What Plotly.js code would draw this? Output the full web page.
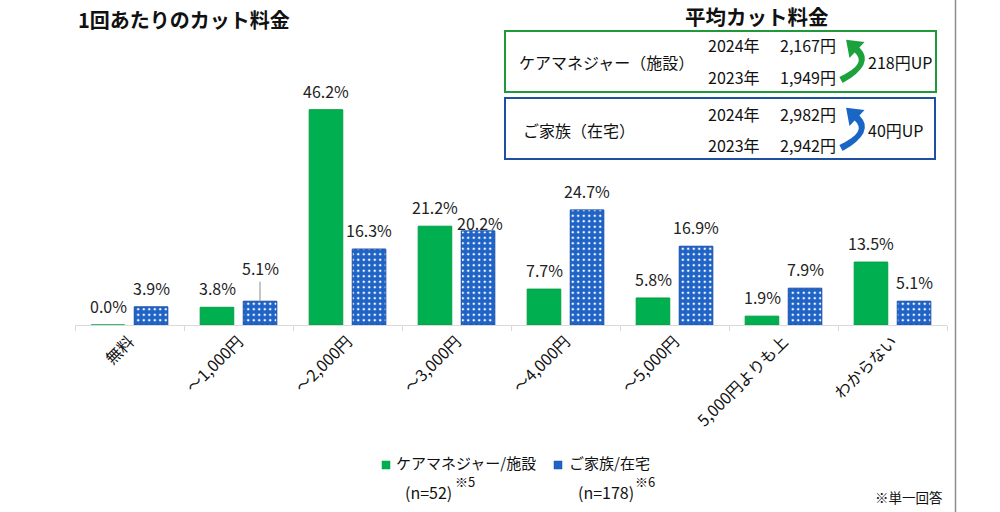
<!DOCTYPE html>
<html>
<head>
<meta charset="utf-8">
<script src="https://cdn.plot.ly/plotly-3.0.1.min.js"></script>
<style>html,body{margin:0;padding:0;background:#fff;}#chart{width:1000px;height:512px;}</style>
</head>
<body>
<div id="chart"></div>
<script>
// ---- data ----
const categories = ["無料", "～1,000円", "～2,000円", "～3,000円", "～4,000円", "～5,000円", "5,000円よりも上", "わからない"];
const careValues = [0.0, 3.8, 46.2, 21.2, 7.7, 5.8, 1.9, 13.5];
const familyValues = [3.9, 5.1, 16.3, 20.2, 24.7, 16.9, 7.9, 5.1];
const careName = "ケアマネジャー/施設";
const familyName = "ご家族/在宅";
const careN = "(n=52)";
const familyN = "(n=178)";
const careNote = "※5";
const familyNote = "※6";
const chartTitle = "1回あたりのカット料金";
const summaryTitle = "平均カット料金";
const summaryYears = ["2024年", "2023年"];
const careGroupLabel = "ケアマネジャー（施設）";
const familyGroupLabel = "ご家族（在宅）";
const careAvg = ["2,167円", "1,949円"];
const familyAvg = ["2,982円", "2,942円"];
const careDiff = "218円UP";
const familyDiff = "40円UP";
const footNote = "※単一回答";

// ---- layout helpers (pixel -> paper) ----
const M = {l: 75, r: 53, t: 92, b: 187};
const W = 1000, H = 512;
const PW = W - M.l - M.r, PH = H - M.t - M.b;
const px = x => (x - M.l) / PW;
const py = y => (H - M.b - y) / PH;
const P = (x, y) => px(x).toFixed(5) + "," + py(y).toFixed(5);

const FONT = "'Noto Sans CJK JP', 'Noto Sans', sans-serif";
const GREEN = "#00b050";
const BLUE = "#1f63c6";

const traces = [
  {
    type: "bar", x: categories, y: careValues, name: careName,
    marker: {color: GREEN, line: {color: "#00a040", width: 1}},
    hoverinfo: "skip", showlegend: false
  },
  {
    type: "bar", x: categories, y: familyValues, name: familyName,
    marker: {
      color: BLUE,
      line: {color: "#174fa8", width: 1},
      pattern: {shape: ".", fillmode: "replace", bgcolor: BLUE, fgcolor: "#ffffff", size: 5.5, solidity: 0.16}
    },
    hoverinfo: "skip", showlegend: false
  }
];

const annotations = [];
const fmt = v => v.toFixed(1) + "%";
const OFF = 21.5;
const LBL = {family: FONT, size: 16, color: "#222"};
categories.forEach((c, i) => {
  annotations.push({x: c, y: careValues[i], xref: "x", yref: "y", text: fmt(careValues[i]),
    showarrow: false, xshift: -OFF, yshift: 5, yanchor: "bottom", font: LBL});
  if (i === 1) {
    // label lifted with a leader line (avoids the neighbouring label)
    annotations.push({x: c, y: familyValues[i], xref: "x", yref: "y", text: fmt(familyValues[i]),
      showarrow: true, arrowhead: 0, arrowwidth: 1, arrowcolor: "#8c8c8c", ax: 0, ay: -33, standoff: 0,
      xshift: OFF, font: LBL});
  } else {
    // the label next to a taller neighbour label sits closer to its bar
    const ys = (i === 3) ? -6 : 5;
    annotations.push({x: c, y: familyValues[i], xref: "x", yref: "y", text: fmt(familyValues[i]),
      showarrow: false, xshift: OFF + (i === 3 ? 2 : 0), yshift: ys, yanchor: "bottom", font: LBL});
  }
});

function txt(text, x, y, anchor, size, bold) {
  annotations.push({text: bold ? "<b>" + text + "</b>" : text, xref: "paper", yref: "paper",
    x: px(x), y: py(y), xanchor: anchor, yanchor: "middle", showarrow: false,
    font: {family: FONT, size: size, color: "#111"}});
}
// titles
txt(chartTitle, 76, 19, "left", 20, true);
txt(summaryTitle, 757, 16, "center", 20.5, true);
// summary box 1
txt(careGroupLabel, 517, 62, "left", 16);
txt(summaryYears[0], 706, 45, "left", 16);
txt(summaryYears[1], 706, 77, "left", 16);
txt(careAvg[0], 838, 45, "right", 16);
txt(careAvg[1], 838, 77, "right", 16);
txt(careDiff, 866, 62, "left", 16);
// summary box 2
txt(familyGroupLabel, 521, 130, "left", 16);
txt(summaryYears[0], 706, 114, "left", 16);
txt(summaryYears[1], 706, 145, "left", 16);
txt(familyAvg[0], 838, 114, "right", 16);
txt(familyAvg[1], 838, 145, "right", 16);
txt(familyDiff, 866, 130, "left", 16);
// legend (custom)
txt(careName, 394, 462, "left", 15);
txt(careN, 428, 492, "center", 16);
txt(careNote, 453, 481, "left", 13);
txt(familyName, 567, 462, "left", 15);
txt(familyN, 606, 492, "center", 16);
txt(familyNote, 633, 481, "left", 13);
// footnote
txt(footNote, 945, 497, "right", 13.5);

function arrowPath(oy) {
  const pts = [
    ["M", 842.6, 83.1], ["Q", 876, 64], [null, 859.4, 47.4],
    ["L", 864.5, 42.0], ["L", 846.1, 39.8], ["L", 849.5, 58.0], ["L", 854.6, 52.6],
    ["Q", 868, 64], [null, 839.4, 76.9]
  ];
  let s = "";
  pts.forEach(p => { s += (p[0] ? " " + p[0] + " " : " ") + P(p[1], p[2] + oy); });
  return s + " Z";
}

const shapes = [
  {type: "rect", xref: "paper", yref: "paper", x0: px(505), x1: px(936), y0: py(92), y1: py(31),
    line: {color: "#1f9a3a", width: 2}, fillcolor: "rgba(0,0,0,0)"},
  {type: "rect", xref: "paper", yref: "paper", x0: px(505), x1: px(935), y0: py(159), y1: py(98),
    line: {color: "#1f4fa0", width: 2}, fillcolor: "rgba(0,0,0,0)"},
  {type: "path", xref: "paper", yref: "paper", path: arrowPath(0), fillcolor: "#1ca23c", line: {width: 0}},
  {type: "path", xref: "paper", yref: "paper", path: arrowPath(68), fillcolor: "#1a66c4", line: {width: 0}},
  {type: "line", xref: "paper", yref: "paper", x0: px(955.5), x1: px(955.5), y0: py(0), y1: py(512),
    line: {color: "#8c8c8c", width: 1.5}},
  // legend swatches
  {type: "rect", xref: "paper", yref: "paper", x0: px(382), x1: px(390), y0: py(469), y1: py(461),
    fillcolor: GREEN, line: {color: "#00a040", width: 0.5}},
  {type: "rect", xref: "paper", yref: "paper", x0: px(554), x1: px(562), y0: py(469), y1: py(461),
    fillcolor: BLUE, line: {color: "#174fa8", width: 0.5}}
];

const layout = {
  width: W, height: H,
  margin: M,
  paper_bgcolor: "#ffffff", plot_bgcolor: "#ffffff",
  barmode: "group", bargap: 0.21, bargroupgap: 0.22,
  font: {family: FONT, size: 14, color: "#111"},
  xaxis: {
    type: "category", tickangle: -45, tickfont: {family: FONT, size: 16, color: "#111"},
    showline: true, linecolor: "#d9d9d9", linewidth: 1,
    ticks: "outside", tickson: "boundaries", ticklen: 5, tickcolor: "#d9d9d9",
    showgrid: false, zeroline: false, fixedrange: true
  },
  yaxis: {range: [0, 50], visible: false, showgrid: false, zeroline: false, fixedrange: true},
  showlegend: false,
  annotations: annotations,
  shapes: shapes
};

Plotly.newPlot("chart", traces, layout, {displayModeBar: false, staticPlot: true});
</script>
</body>
</html>
